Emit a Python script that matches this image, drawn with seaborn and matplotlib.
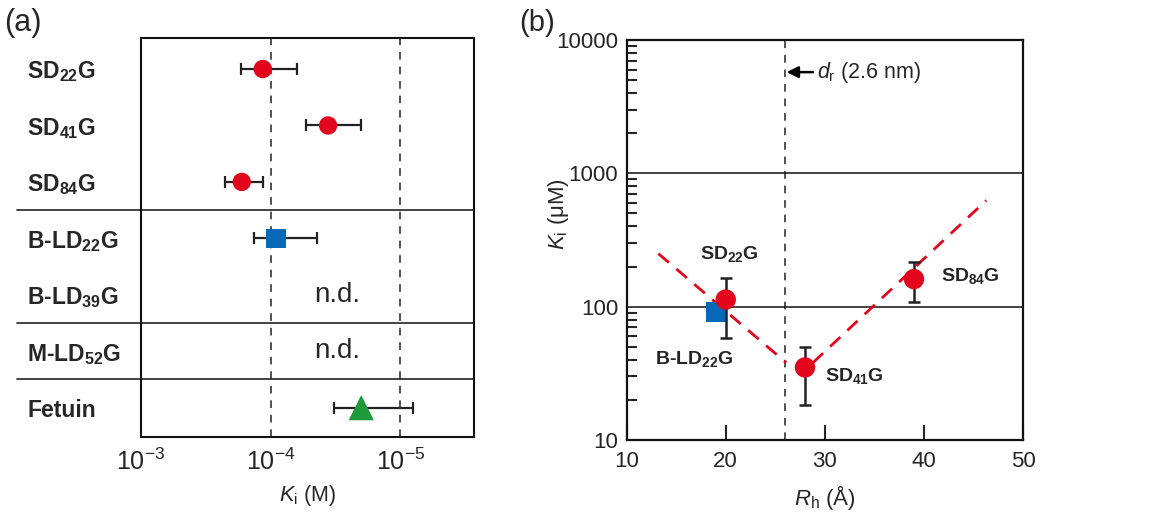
import numpy as np
import pandas as pd
import matplotlib
matplotlib.use("Agg")
import matplotlib.pyplot as plt
import seaborn as sns

# -----------------------------
# data: panel (a)  Ki (M) per glycan / protein
# -----------------------------
a_names = ["SD$_{\\mathbf{22}}$G", "SD$_{\\mathbf{41}}$G", "SD$_{\\mathbf{84}}$G",
           "B-LD$_{\\mathbf{22}}$G", "B-LD$_{\\mathbf{39}}$G", "M-LD$_{\\mathbf{52}}$G",
           "Fetuin"]
a_ki = [1.15e-4, 3.6e-5, 1.67e-4, 9.1e-5, np.nan, np.nan, 2.0e-5]
a_ki_high = [1.67e-4, 5.2e-5, 2.2e-4, 1.38e-4, np.nan, np.nan, 3.2e-5]
a_ki_low = [6.1e-5, 1.9e-5, 1.11e-4, 4.8e-5, np.nan, np.nan, 7.6e-6]
a_group = ["SD", "SD", "SD", "B-LD", "B-LD", "M-LD", "Fetuin"]
a_nd_rows = [4, 5]
a_separators = [2.5, 4.5, 5.5]

# -----------------------------
# data: panel (b)  Ki (uM) vs hydrodynamic radius
# -----------------------------
b_names = ["SD$_{\\mathbf{22}}$G", "SD$_{\\mathbf{41}}$G", "SD$_{\\mathbf{84}}$G"]
b_rh = [20, 28, 39]
b_ki = [113, 35, 161]
b_ki_high = [165, 50, 215]
b_ki_low = [58, 18.3, 108]
bld_rh = [19]
bld_ki = [91]
fit_left_x = [13.2, 26.1]
fit_left_y = [250, 38]
fit_right_x = [28.8, 46.3]
fit_right_y = [38, 627]
d_r = 26  # Angstrom

RED = "#e3051b"
BLUE = "#0868b8"
GREEN = "#1f9a3a"

sns.set_style("white")
plt.rcParams["font.family"] = ["Liberation Sans", "DejaVu Sans"]
plt.rcParams["mathtext.fontset"] = "custom"
plt.rcParams["mathtext.rm"] = "Liberation Sans"
plt.rcParams["mathtext.it"] = "Liberation Sans:italic"
plt.rcParams["mathtext.bf"] = "Liberation Sans:bold"

fig = plt.figure(figsize=(11.49, 5.16), dpi=100)
ax1 = fig.add_axes([0.1227, 0.1531, 0.2898, 0.7733])
ax2 = fig.add_axes([0.5454, 0.1473, 0.3449, 0.7752])

# -----------------------------
# (a) Ki per compound
# -----------------------------
dfa = pd.DataFrame({"name": a_names, "ki": a_ki, "hi": a_ki_high, "lo": a_ki_low,
                    "group": a_group, "row": np.arange(len(a_names))})
ok = dfa.dropna()
ax1.errorbar(ok["ki"], ok["row"], xerr=[ok["hi"] - ok["ki"], ok["ki"] - ok["lo"]],
             fmt="none", ecolor="#222222", elinewidth=1.6, capsize=4, capthick=1.6, zorder=2)
sns.scatterplot(data=ok, x="ki", y="row", hue="group", style="group",
                palette={"SD": RED, "B-LD": BLUE, "Fetuin": GREEN},
                markers={"SD": "o", "B-LD": "s", "Fetuin": "^"},
                size="group", sizes={"SD": 175, "B-LD": 200, "Fetuin": 330},
                edgecolor="none", legend=False, zorder=3, ax=ax1)

for xv in [1e-4, 1e-5]:
    ax1.axvline(xv, color="#222222", lw=1.1, ls=(0, (5, 4.5)), zorder=1)
for yv in a_separators:
    ax1.axhline(yv, xmin=-0.372, xmax=1.0, color="#222222", lw=1.2, clip_on=False)
for r in a_nd_rows:
    ax1.text(3.05e-5, r, "n.d.", fontsize=20, ha="center", va="center")

ax1.set_xscale("log")
ax1.set_xlim(1e-3, 2.7e-6)
ax1.set_ylim(6.52, -0.55)
ax1.set_xticks([1e-3, 1e-4, 1e-5])
ax1.set_xticklabels(["$10^{-3}$", "$10^{-4}$", "$10^{-5}$"], fontsize=18)
ax1.xaxis.set_minor_locator(matplotlib.ticker.NullLocator())
ax1.set_yticks(range(len(a_names)))
ax1.set_yticklabels(a_names, fontsize=16.5, fontweight="bold", ha="left")
ax1.tick_params(axis="y", length=0, pad=82)
ax1.tick_params(axis="x", length=0, pad=8)
ax1.set_xlabel("$K_\\mathrm{i}$ (M)", fontsize=15.5, labelpad=6)
ax1.set_ylabel("")
for s in ax1.spines.values():
    s.set_linewidth(1.5)
    s.set_color("#111111")

# -----------------------------
# (b) Ki vs Rh
# -----------------------------
dfb = pd.DataFrame({"rh": b_rh, "ki": b_ki, "hi": b_ki_high, "lo": b_ki_low})
sns.lineplot(x=fit_left_x, y=fit_left_y, color=RED, lw=2, dashes=False, ax=ax2, zorder=2)
sns.lineplot(x=fit_right_x, y=fit_right_y, color=RED, lw=2, dashes=False, ax=ax2, zorder=2)
for ln in ax2.lines:
    ln.set_dashes((5, 3.5))
ax2.axvline(d_r, color="#222222", lw=1.1, ls=(0, (5, 4.5)), zorder=1)
for yv in [100, 1000]:
    ax2.axhline(yv, color="#111111", lw=1.1, zorder=1)

sns.scatterplot(x=bld_rh, y=bld_ki, marker="s", s=210, color=BLUE, edgecolor="none",
                ax=ax2, zorder=3)
ax2.errorbar(dfb["rh"], dfb["ki"], yerr=[dfb["ki"] - dfb["lo"], dfb["hi"] - dfb["ki"]],
             fmt="none", ecolor="#222222", elinewidth=1.8, capsize=4, capthick=1.8, zorder=4)
sns.scatterplot(data=dfb, x="rh", y="ki", marker="o", s=215, color=RED, edgecolor="none",
                ax=ax2, zorder=5)

lab_pos = [(20.4, 250, "center"), (30.0, 30.3, "left"), (41.7, 171, "left")]
for name, (xp, yp, ha) in zip(b_names, lab_pos):
    ax2.text(xp, yp, name, fontsize=14, fontweight="bold", ha=ha, va="center")
ax2.text(16.8, 40.3, "B-LD$_{\\mathbf{22}}$G", fontsize=14, fontweight="bold",
         ha="center", va="center")

ax2.annotate("", xy=(26.15, 5740), xytext=(28.8, 5740),
             arrowprops=dict(arrowstyle="-|>", color="k", lw=1.8, mutation_scale=17,
                             shrinkA=0, shrinkB=0))
ax2.text(29.2, 5740, "$d_\\mathrm{r}$ (2.6 nm)", fontsize=15.5, ha="left", va="center")

ax2.set_yscale("log")
ax2.set_xlim(10, 50)
ax2.set_ylim(10, 10000)
ax2.set_xticks([10, 20, 30, 40, 50])
ax2.set_xticklabels(["10", "20", "30", "40", "50"], fontsize=16)
ax2.set_yticks([10, 100, 1000, 10000])
ax2.set_yticklabels(["10", "100", "1000", "10000"], fontsize=16)
ax2.yaxis.set_minor_locator(matplotlib.ticker.LogLocator(base=10, subs=np.arange(2, 10)))
ax2.yaxis.set_minor_formatter(matplotlib.ticker.NullFormatter())
ax2.tick_params(axis="y", which="major", length=0, pad=6)
ax2.tick_params(axis="y", which="minor", direction="in", length=7, width=1.5, left=True)
ax2.tick_params(axis="x", which="major", direction="in", length=11, width=1.5,
                bottom=True, pad=8)
ax2.set_xlabel("$R_\\mathrm{h}$ (Å)", fontsize=16, labelpad=8)
ax2.set_ylabel("$K_\\mathrm{i}$ (μM)", fontsize=16)
ax2.yaxis.set_label_coords(-0.14, 0.565)
for s in ax2.spines.values():
    s.set_linewidth(1.6)
    s.set_color("#111111")

fig.text(0.004, 0.955, "(a)", fontsize=22, va="center")
fig.text(0.452, 0.955, "(b)", fontsize=21, va="center")

fig.savefig("out.png", dpi=100)
